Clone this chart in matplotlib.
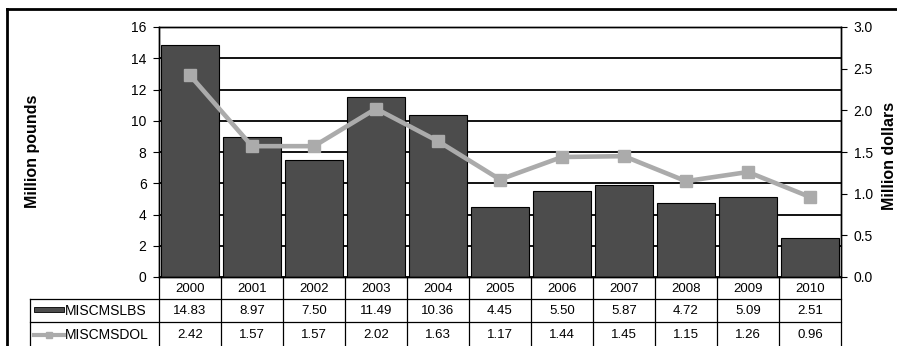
import matplotlib
matplotlib.use("Agg")
import matplotlib.pyplot as plt
import matplotlib.transforms as mtransforms
from matplotlib.lines import Line2D
from matplotlib.patches import Rectangle
import numpy as np

plt.rcParams['font.family'] = ['Liberation Sans', 'DejaVu Sans']

years = ['2000', '2001', '2002', '2003', '2004', '2005',
         '2006', '2007', '2008', '2009', '2010']
pounds = [14.83, 8.97, 7.50, 11.49, 10.36, 4.45, 5.50, 5.87, 4.72, 5.09, 2.51]
dollars = [2.42, 1.57, 1.57, 2.02, 1.63, 1.17, 1.44, 1.45, 1.15, 1.26, 0.96]
series_names = ['MISCMSLBS', 'MISCMSDOL']

bar_color = '#4c4c4c'
line_color = '#ababab'

W, H = 897, 346
fig = plt.figure(figsize=(W / 100, H / 100), dpi=100)

# plot area in pixels: left 159, right 841, top 27, bottom 277
px_left, px_right, px_top, px_bot = 159, 841, 27, 277
ax = fig.add_axes([px_left / W, 1 - px_bot / H,
                   (px_right - px_left) / W, (px_bot - px_top) / H])
x = np.arange(len(years))

ax.bar(x, pounds, width=0.92, color=bar_color, edgecolor='black',
       linewidth=0.8, zorder=2)
ax.set_xlim(-0.5, len(years) - 0.5)
ax.set_ylim(0, 16)
ax.set_yticks(range(0, 17, 2))
ax.set_xticks([])
ax.yaxis.grid(True, color='black', linewidth=1.3)
ax.set_axisbelow(True)
ax.tick_params(axis='y', direction='out', length=4, width=0.8,
               labelsize=10, pad=5, colors='black')

ax2 = ax.twinx()
ax2.plot(x, dollars, color=line_color, linewidth=3.3, marker='s',
         markersize=8.5, zorder=3)
ax2.set_ylim(0, 3)
ax2.set_yticks(np.arange(0, 3.01, 0.5))
ax2.set_yticklabels([f'{v:.1f}' for v in np.arange(0, 3.01, 0.5)])
ax2.tick_params(axis='y', direction='out', length=4, width=0.8,
                labelsize=10, pad=5, colors='black')

for a in (ax, ax2):
    for s in a.spines.values():
        s.set_color('black')
        s.set_linewidth(1.0)

fig.text(32 / W, 1 - 151 / H, 'Million pounds', rotation=90,
         ha='center', va='center', fontsize=11.5, fontweight='bold')
fig.text(889 / W, 1 - 156 / H, 'Million dollars', rotation=90,
         ha='center', va='center', fontsize=11.5, fontweight='bold')

# data table under the axis, x in category units, y in axes fraction
trans = mtransforms.blended_transform_factory(ax.transData, ax.transAxes)
unit = (px_right - px_left) / len(years)


def ya(py):
    return (px_bot - py) / (px_bot - px_top)


def xd(px):
    return -0.5 + (px - px_left) / unit


tbl_left = xd(30)
row_lines = [299, 322]
tbl_bottom = H + 5

for i in range(len(years) + 1):
    ax.add_line(Line2D([i - 0.5, i - 0.5], [ya(px_bot), ya(tbl_bottom)],
                       transform=trans, color='black', lw=0.9,
                       clip_on=False))
ax.add_line(Line2D([tbl_left, tbl_left], [ya(row_lines[0]), ya(tbl_bottom)],
                   transform=trans, color='black', lw=0.9, clip_on=False))
for py in row_lines:
    ax.add_line(Line2D([tbl_left, len(years) - 0.5], [ya(py), ya(py)],
                       transform=trans, color='black', lw=0.9,
                       clip_on=False))

for i, yr in enumerate(years):
    ax.text(i, ya(288.5), yr, transform=trans, ha='center', va='center',
            fontsize=9.5, clip_on=False)
    ax.text(i, ya(311), f'{pounds[i]:.2f}', transform=trans, ha='center',
            va='center', fontsize=9.5, clip_on=False)
    ax.text(i, ya(335), f'{dollars[i]:.2f}', transform=trans, ha='center',
            va='center', fontsize=9.5, clip_on=False)

# row legend keys
sw0, sw1 = xd(34), xd(64)
ax.add_patch(Rectangle((sw0, ya(312)), sw1 - sw0, ya(307) - ya(312),
                       transform=trans, facecolor=bar_color,
                       edgecolor='black', lw=0.6, clip_on=False))
ax.add_line(Line2D([sw0, sw1], [ya(335), ya(335)], transform=trans,
                   color=line_color, lw=3, clip_on=False))
ax.add_line(Line2D([(sw0 + sw1) / 2], [ya(335)], transform=trans,
                   color=line_color, marker='s', markersize=5,
                   clip_on=False))
ax.text(xd(65), ya(311), series_names[0], transform=trans, ha='left',
        va='center', fontsize=10, clip_on=False)
ax.text(xd(65), ya(335), series_names[1], transform=trans, ha='left',
        va='center', fontsize=10, clip_on=False)

# outer frame, top and left edges
fig.add_artist(Line2D([7 / W, 1], [1 - 9 / H, 1 - 9 / H],
                      transform=fig.transFigure, color='black', lw=2))
fig.add_artist(Line2D([7 / W, 7 / W], [0, 1 - 9 / H],
                      transform=fig.transFigure, color='black', lw=2))

fig.savefig('out.png', dpi=100)
